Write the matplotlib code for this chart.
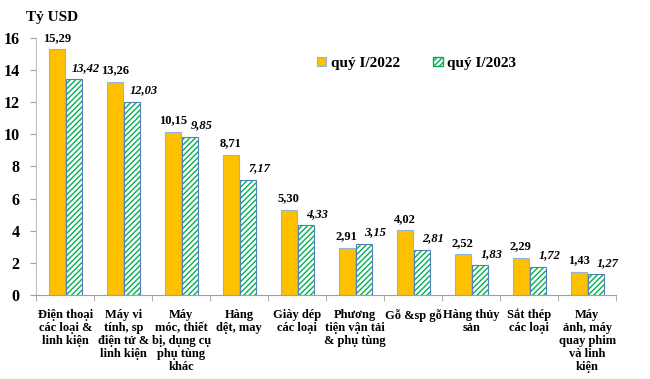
import numpy as np
import matplotlib.pyplot as plt

plt.rcParams['font.family'] = ['Liberation Serif', 'DejaVu Serif']
plt.rcParams['font.weight'] = 'bold'

categories = [
    "Điện thoại\ncác loại &\nlinh kiện",
    "Máy vi\ntính, sp\nđiện tử &\nlinh kiện",
    "Máy\nmóc, thiết\nbị, dụng cụ\nphụ tùng\nkhác",
    "Hàng\ndệt, may",
    "Giày dép\ncác loại",
    "Phương\ntiện vận tải\n& phụ tùng",
    "Gỗ &sp gỗ",
    "Hàng thủy\nsản",
    "Sắt thép\ncác loại",
    "Máy\nảnh, máy\nquay phim\nvà linh\nkiện",
]
q1_2022 = [15.29, 13.26, 10.15, 8.71, 5.30, 2.91, 4.02, 2.52, 2.29, 1.43]
q1_2023 = [13.42, 12.03, 9.85, 7.17, 4.33, 3.15, 2.81, 1.83, 1.72, 1.27]
yticks = [0, 2, 4, 6, 8, 10, 12, 14, 16]

orange = '#FFC000'
green = '#00B050'
edge = '#8EB4E3'

fig = plt.figure(figsize=(6.5, 3.79), dpi=100)
ax = fig.add_axes([0.056, 0.222, 0.892, 0.678])

x = np.arange(len(categories))
w = 0.275
gap = 0.01

ax.bar(x - w / 2 - gap, q1_2022, w, color=orange, edgecolor=edge, linewidth=0.8,
       label='quý I/2022')
ax.bar(x + w / 2 + gap, q1_2023, w, color='white', edgecolor=green, hatch='//////',
       linewidth=0)
ax.bar(x + w / 2 + gap, q1_2023, w, color='none', edgecolor='#4F81BD', linewidth=0.8)
# proxy for legend
ax.bar([0], [0], 0, color='white', edgecolor=green, hatch='//////', label='quý I/2023')

fmt = lambda v: f"{v:.2f}".replace('.', ',')
for xi, v in zip(x, q1_2022):
    ax.text(xi - w / 2 - gap, v + 0.35, fmt(v), ha='center', va='bottom',
            fontsize=9, fontweight='bold')
for xi, v in zip(x, q1_2023):
    ax.text(xi + w / 2 + gap + 0.2, v + 0.35, fmt(v), ha='center', va='bottom',
            fontsize=9, fontweight='bold', style='italic')

ax.set_xlim(-0.5, len(categories) - 0.5)
ax.set_ylim(0, 16)
ax.set_yticks(yticks)
ax.set_yticklabels([str(t) for t in yticks], fontsize=11.5, fontweight='bold')
ax.set_xticks(x)
ax.set_xticklabels(categories, fontsize=9, fontweight='bold', linespacing=1.12)
ax.tick_params(axis='x', length=0, pad=10)
ax.set_xticks(np.arange(len(categories) + 1) - 0.5, minor=True)
ax.tick_params(axis='x', which='minor', length=4, color='#A0A0A0')
ax.tick_params(axis='y', length=4, color='#A0A0A0', pad=8)

for s in ['top', 'right']:
    ax.spines[s].set_visible(False)
ax.spines['left'].set_color('#BFBFBF')
ax.spines['bottom'].set_color('#A0A0A0')

fig.text(0.04, 0.955, 'Tỷ USD', fontsize=11, fontweight='bold', va='center')

ax.legend(loc='upper left', bbox_to_anchor=(0.46, 0.98), ncol=2, frameon=False,
          fontsize=11, handlelength=0.6, handleheight=0.6, columnspacing=2.2,
          handletextpad=0.3)

fig.savefig('out.png', dpi=100)
